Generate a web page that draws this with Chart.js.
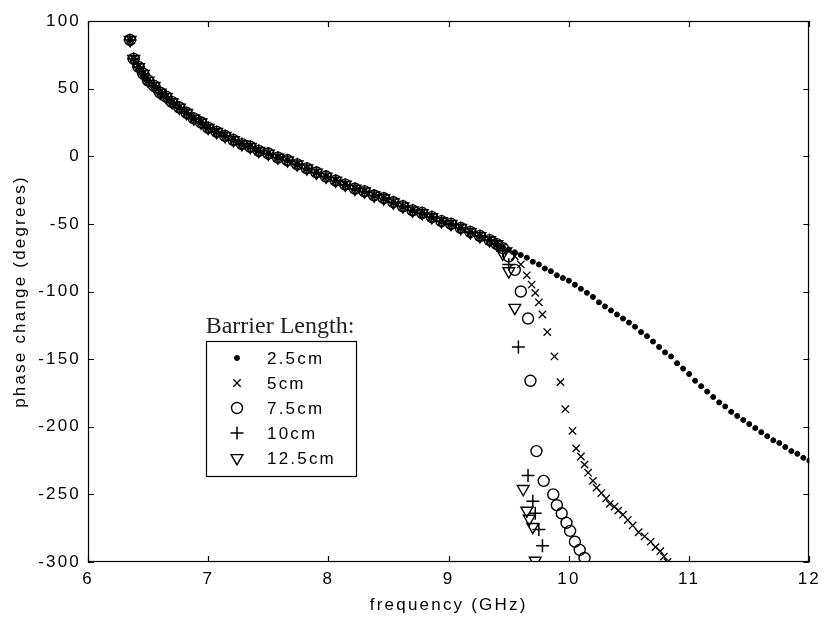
<!DOCTYPE html>
<html>
<head>
<meta charset="utf-8">
<script src="https://cdn.jsdelivr.net/npm/chart.js@4.4.1/dist/chart.umd.min.js"></script>
<style>
html,body{margin:0;padding:0;background:#fff;}
#wrap{width:828px;height:619px;position:relative;}
</style>
</head>
<body>
<div id="wrap"><canvas id="c"></canvas></div>
<script>
// ---- data ----
const seriesNames = ["2.5cm", "5cm", "7.5cm", "10cm", "12.5cm"];
const xTicks = [6, 7, 8, 9, 10, 11, 12];
const yTicks = [-300, -250, -200, -150, -100, -50, 0, 50, 100];

// common part of all curves (frequency GHz, phase deg)
const sharedFreq  = [6.35, 6.38, 6.42, 6.46, 6.50, 6.55, 6.60, 6.65, 6.70, 6.76, 6.82, 6.88, 6.94, 7.00, 7.07, 7.14, 7.21, 7.28, 7.35, 7.42, 7.50, 7.58, 7.66, 7.74, 7.82, 7.90, 7.98, 8.06, 8.14, 8.22, 8.30, 8.38, 8.46, 8.54, 8.62, 8.70, 8.78, 8.86, 8.94, 9.02, 9.10, 9.18, 9.26, 9.34, 9.40];
const sharedPhase = [86, 72, 66, 61, 56, 52, 47, 44, 40, 36, 32, 28, 25, 21, 18, 15, 12, 9, 7, 4, 2, -1, -3, -6, -9, -12, -15, -18, -21, -24, -26, -29, -31, -34, -37, -40, -42, -45, -48, -50, -53, -56, -59, -62, -65];

// tails after the curves separate
const freq25  = [9.45, 9.50, 9.55, 9.60, 9.65, 9.70, 9.75, 9.80, 9.85, 9.90, 9.95, 10.00, 10.05, 10.10, 10.15, 10.20, 10.25, 10.30, 10.35, 10.40, 10.45, 10.50, 10.55, 10.60, 10.65, 10.70, 10.75, 10.80, 10.85, 10.90, 10.95, 11.00, 11.05, 11.10, 11.15, 11.20, 11.25, 11.30, 11.35, 11.40, 11.45, 11.50, 11.55, 11.60, 11.65, 11.70, 11.75, 11.80, 11.85, 11.90, 11.95, 12.00];
const phase25 = [-67, -69, -71, -73, -75, -78, -80, -83, -85, -88, -90, -92, -95, -98, -101, -104, -108, -111, -114, -117, -120, -123, -126, -130, -133, -137, -141, -145, -148, -153, -157, -161, -166, -170, -174, -178, -182, -185, -189, -192, -195, -198, -201, -204, -207, -210, -212, -215, -218, -220, -223, -225];

const freq5  = [9.45, 9.50, 9.55, 9.60, 9.65, 9.69, 9.72, 9.75, 9.78, 9.82, 9.88, 9.93, 9.97, 10.03, 10.06, 10.10, 10.13, 10.16, 10.20, 10.23, 10.27, 10.31, 10.34, 10.38, 10.41, 10.45, 10.49, 10.53, 10.58, 10.63, 10.68, 10.72, 10.76, 10.79, 10.82];
const phase5 = [-67, -70, -74, -80, -88, -95, -101, -108, -117, -130, -148, -167, -187, -203, -216, -222, -228, -234, -240, -245, -249, -253, -257, -259, -262, -265, -269, -273, -278, -281, -285, -289, -292, -296, -300];

const freq75  = [9.45, 9.50, 9.55, 9.60, 9.66, 9.68, 9.73, 9.79, 9.87, 9.90, 9.94, 9.98, 10.01, 10.05, 10.09, 10.13];
const phase75 = [-68, -74, -84, -100, -120, -166, -218, -240, -250, -258, -264, -271, -277, -285, -291, -297];

const freq10  = [9.45, 9.50, 9.58, 9.66, 9.70, 9.72, 9.75, 9.78];
const phase10 = [-70, -80, -141, -236, -255, -264, -276, -288];

const freq125  = [9.45, 9.50, 9.55, 9.62, 9.65, 9.67, 9.70, 9.72];
const phase125 = [-72, -85, -112, -246, -262, -268, -274, -299];

// ---- build ----
function pts(fx, py) {
  const shared = sharedFreq.map((f, i) => ({x: f, y: sharedPhase[i]}));
  return shared.concat(fx.map((f, i) => ({x: f, y: py[i]})));
}
const styles = [
  {pointStyle: 'circle', radius: 2.5, bg: '#000', bw: 1},
  {pointStyle: 'crossRot', radius: 5.2, bg: 'rgba(0,0,0,0)', bw: 1.3},
  {pointStyle: 'circle', radius: 5.5, bg: 'rgba(0,0,0,0)', bw: 1.4},
  {pointStyle: 'cross', radius: 6.5, bg: 'rgba(0,0,0,0)', bw: 1.5},
  {pointStyle: 'triangle', radius: 6.8, bg: 'rgba(0,0,0,0)', bw: 1.4, rot: 180}
];
const tails = [[freq25, phase25], [freq5, phase5], [freq75, phase75], [freq10, phase10], [freq125, phase125]];
const datasets = seriesNames.map((n, k) => ({
  label: n,
  data: pts(tails[k][0], tails[k][1]),
  showLine: false,
  pointStyle: styles[k].pointStyle,
  pointRadius: styles[k].radius,
  pointBackgroundColor: styles[k].bg,
  pointBorderColor: '#000',
  pointBorderWidth: styles[k].bw,
  pointRotation: styles[k].rot || 0
}));

const FONT = "'Liberation Sans', Arial, sans-serif";
const SPACING = '2.2px';

const spacingPlugin = {
  id: 'spacing',
  beforeUpdate(chart) { chart.ctx.letterSpacing = SPACING; },
  beforeLayout(chart) { chart.ctx.letterSpacing = SPACING; },
  resize(chart) { chart.ctx.letterSpacing = SPACING; },
  beforeDraw(chart) { chart.ctx.letterSpacing = SPACING; }
};

const framePlugin = {
  id: 'frame',
  afterDraw(chart) {
    const ctx = chart.ctx, a = chart.chartArea;
    const xs = chart.scales.x, ys = chart.scales.y;
    ctx.save();
    ctx.strokeStyle = '#000';
    ctx.lineWidth = 1.2;
    ctx.strokeRect(Math.round(a.left) + 0.5, Math.round(a.top) + 0.5, Math.round(a.right - a.left) - 1, Math.round(a.bottom - a.top) - 1);
    const tl = 6;
    ctx.beginPath();
    xTicks.forEach(v => {
      const px = Math.round(xs.getPixelForValue(v)) + 0.5;
      ctx.moveTo(px, a.bottom); ctx.lineTo(px, a.bottom - tl);
      ctx.moveTo(px, a.top); ctx.lineTo(px, a.top + tl);
    });
    yTicks.forEach(v => {
      const py = Math.round(ys.getPixelForValue(v)) + 0.5;
      ctx.moveTo(a.left, py); ctx.lineTo(a.left + tl, py);
      ctx.moveTo(a.right, py); ctx.lineTo(a.right - tl, py);
    });
    ctx.stroke();

    // legend
    ctx.letterSpacing = '0px';
    ctx.fillStyle = '#222';
    ctx.font = "24px 'Liberation Serif', 'Times New Roman', serif";
    ctx.textAlign = 'center';
    ctx.textBaseline = 'alphabetic';
    ctx.fillText('Barrier Length:', 280, 333);
    ctx.strokeStyle = '#000';
    ctx.lineWidth = 1.2;
    ctx.strokeRect(206.5, 341.5, 150, 135);
    ctx.letterSpacing = SPACING;
    ctx.font = "17px " + FONT;
    ctx.textAlign = 'left';
    ctx.textBaseline = 'middle';
    seriesNames.forEach((n, k) => {
      const y = 358 + k * 25;
      const s = styles[k];
      ctx.lineWidth = s.bw;
      ctx.strokeStyle = '#000';
      ctx.fillStyle = s.bg;
      Chart.helpers.drawPoint(ctx, {pointStyle: s.pointStyle, radius: s.radius, rotation: s.rot || 0, borderWidth: s.bw}, 237, y);
      ctx.fillStyle = '#000';
      ctx.fillText(n, 267, y + 1);
    });
    ctx.restore();
  }
};

new Chart(document.getElementById('c'), {
  type: 'scatter',
  data: {datasets},
  options: {
    responsive: true,
    maintainAspectRatio: false,
    animation: false,
    devicePixelRatio: 1,
    layout: {padding: {left: 0, right: 7, top: 21, bottom: 0}},
    plugins: {legend: {display: false}, tooltip: {enabled: false}},
    scales: {
      x: {
        type: 'linear', min: 6, max: 12,
        afterBuildTicks(s) { s.ticks = xTicks.map(v => ({value: v})); },
        afterFit(s) { s.height = 57; },
        grid: {display: false, drawTicks: false},
        border: {display: false},
        ticks: {color: '#000', font: {family: FONT, size: 17}, padding: 7},
        title: {display: true, text: 'frequency (GHz)', color: '#000', font: {family: FONT, size: 17}, padding: {top: 0, bottom: 3}}
      },
      y: {
        type: 'linear', min: -300, max: 100,
        afterBuildTicks(s) { s.ticks = yTicks.map(v => ({value: v})); },
        afterFit(s) { s.width = 88; },
        grid: {display: false, drawTicks: false},
        border: {display: false},
        ticks: {color: '#000', font: {family: FONT, size: 17}, padding: 7},
        title: {display: true, text: 'phase change (degrees)', color: '#000', font: {family: FONT, size: 17}, padding: {top: 10, bottom: 0}}
      }
    }
  },
  plugins: [spacingPlugin, framePlugin]
});
</script>
</body>
</html>
